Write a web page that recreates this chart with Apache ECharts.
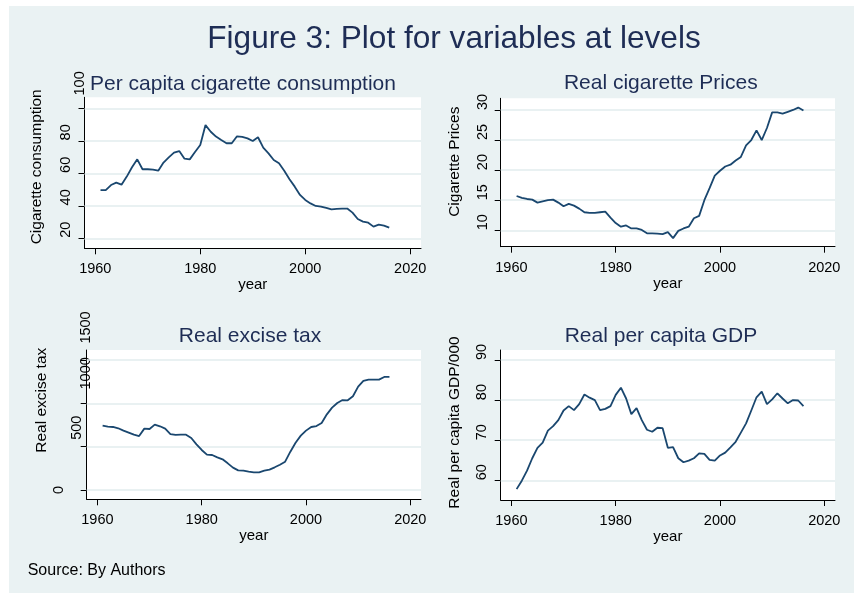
<!DOCTYPE html>
<html><head><meta charset="utf-8">
<script src="https://cdn.jsdelivr.net/npm/echarts@6/dist/echarts.min.js"></script>
<style>html,body{margin:0;padding:0;background:#fff}#c{width:854px;height:593px}</style>
</head><body><div id="c"></div>
<script>
// ---------------- data ----------------
const years = [1961,1962,1963,1964,1965,1966,1967,1968,1969,1970,1971,1972,1973,1974,1975,1976,1977,1978,1979,1980,
  1981,1982,1983,1984,1985,1986,1987,1988,1989,1990,1991,1992,1993,1994,1995,1996,1997,1998,1999,2000,
  2001,2002,2003,2004,2005,2006,2007,2008,2009,2010,2011,2012,2013,2014,2015,2016];
const consumption = [49.7,49.7,52.8,54.3,53.0,58.0,63.7,68.6,62.5,62.5,62.3,61.6,66.6,69.8,72.7,73.7,69.0,68.6,73.1,77.4,
  89.7,85.6,82.6,80.5,78.5,78.5,82.8,82.4,81.5,79.9,82.2,75.8,72.3,68.2,66.2,61.6,56.3,51.8,46.7,43.6,
  41.5,39.9,39.5,38.7,37.8,38.1,38.3,38.3,35.8,31.9,30.3,29.6,27.2,28.4,27.8,26.6];
const prices = [15.7,15.4,15.2,15.1,14.6,14.8,15.0,15.1,14.6,14.0,14.4,14.1,13.6,13.0,12.9,12.9,13.0,13.1,12.1,11.2,
  10.6,10.8,10.3,10.3,10.05,9.5,9.5,9.45,9.35,9.7,8.7,9.9,10.3,10.6,12.0,12.4,15.0,17.0,19.1,19.9,
  20.6,20.9,21.6,22.2,24.1,25.0,26.6,25.0,27.0,29.6,29.6,29.4,29.7,30.0,30.4,29.9];
const exciseTax = [742,731,727,712,685,662,638,623,708,704,754,735,708,646,635,638,638,600,527,462,
  408,404,377,354,308,258,227,223,212,204,204,223,235,262,292,327,442,546,627,685,
  727,738,773,873,950,1004,1038,1035,1081,1192,1258,1273,1273,1273,1304,1304];
const gdpPerCapita = [57.8,59.9,62.4,65.5,68.1,69.4,72.4,73.5,75.0,77.4,78.5,77.5,79.0,81.4,80.6,80.0,77.5,77.8,78.5,81.3,
  83.1,80.4,76.5,78.0,75.0,72.6,72.1,73.1,73.0,68.1,68.3,65.5,64.5,64.9,65.5,66.7,66.6,65.1,64.9,66.2,
  66.9,68.2,69.6,71.9,74.2,77.4,80.7,82.1,79.0,80.2,81.7,80.4,79.2,80.0,79.9,78.5];

const xTicks = [1960,1980,2000,2020];
const consumptionTicks = [20,40,60,80,100];
const priceTicks = [10,15,20,25,30];
const taxTicks = [0,500,1000,1500];
const gdpTicks = [60,70,80,90];

const mainTitle = 'Figure 3: Plot for variables at levels';
const panelTitles = ['Per capita cigarette consumption','Real cigarette Prices','Real excise tax','Real per capita GDP'];
const yNames = ['Cigarette consumption','Cigarette Prices','Real excise tax','Real per capita GDP/000'];
const xName = 'year';
const sourceNote = 'Source: By Authors';

// ---------------- styling / layout ----------------
const BG = '#EAF2F3', GRIDLINE = '#E2ECEE', NAVY = '#1A476F', TITLE = '#1e2d55';
const FONT = '"Liberation Sans", Arial, Helvetica, sans-serif';
const panels = [
  {series: consumption, ticks: consumptionTicks, grid:{left:84.5, top:97.3, width:336.5, height:151},
   ymin:13.85, ymax:106.8, nameGap:39.4, namePad:12, xNameGap:26.7,
   off:{20:[8.5,17.8],40:[8.5,17.8],60:[8.5,17.8],80:[8.5,17.8],100:[25,4.5]},
   title:{x:243, y:73.9}},
  {series: prices, ticks: priceTicks, grid:{left:500.7, top:98.3, width:334.3, height:148.4},
   ymin:7.27, ymax:31.94, nameGap:38.3, namePad:21.6, xNameGap:27.3,
   off:{10:[8,17.4],15:[8,17.4],20:[8,17.4],25:[8,17.4],30:[8,17.4]},
   title:{x:660.8, y:72.9}},
  {series: exciseTax, ticks: taxTicks, grid:{left:86.7, top:350, width:334.3, height:149.3},
   ymin:-107, ymax:1615, nameGap:31.5, namePad:48.8, xNameGap:25.7,
   off:{0:[0,27.6],500:[19,9.2],1000:[30,0],1500:[32.5,0]},
   title:{x:250, y:325.5}},
  {series: gdpPerCapita, ticks: gdpTicks, grid:{left:500.7, top:350, width:334.3, height:150},
   ymin:55.09, ymax:92.49, nameGap:38.3, namePad:5, xNameGap:25,
   off:{60:[8,18.2],70:[8,18.2],80:[8,18.2],90:[8,18.2]},
   title:{x:661, y:325.5}}
];

const grids = [], xAxes = [], yAxes = [], series = [], titles = [];
titles.push({text: mainTitle, left: 454, top: 22.8, padding: 0, textAlign: 'center', textVerticalAlign: 'top',
  textStyle: {fontFamily: FONT, fontSize: 31.6, fontWeight: 'normal', color: TITLE}});
titles.push({text: sourceNote, left: 27.7, top: 562.5, padding: 0, textAlign: 'left', textVerticalAlign: 'top',
  textStyle: {fontFamily: FONT, fontSize: 16, fontWeight: 'normal', color: '#000'}});

panels.forEach((p, i) => {
  grids.push(Object.assign({show: true, backgroundColor: '#fff', borderWidth: 0, containLabel: false, outerBoundsMode: 'none'}, p.grid));
  titles.push({text: panelTitles[i], left: p.title.x, top: p.title.y, padding: 0, textAlign: 'center', textVerticalAlign: 'top',
    textStyle: {fontFamily: FONT, fontSize: 21, fontWeight: 'normal', color: TITLE}});
  xAxes.push({type: 'value', gridIndex: i, min: 1957.95, max: 2022.05,
    name: xName, nameLocation: 'middle', nameGap: p.xNameGap,
    nameTextStyle: {fontFamily: FONT, fontSize: 15, color: '#000'},
    axisLine: {show: true, onZero: false, lineStyle: {color: '#000', width: 1}},
    axisTick: {show: true, length: 6, customValues: xTicks, lineStyle: {color: '#000'}},
    axisLabel: {customValues: xTicks, margin: 13.5, fontFamily: FONT, fontSize: 14.5, color: '#000',
      formatter: (v) => String(v)},
    splitLine: {show: false}});
  const rich = {};
  p.ticks.forEach((v, k) => {
    const o = p.off[v];
    rich['t' + k] = {fontFamily: FONT, fontSize: 14.5, color: '#000', padding: [0, 0, o[1], 2 * o[0]]};
  });
  yAxes.push({type: 'value', gridIndex: i, min: p.ymin, max: p.ymax,
    name: yNames[i], nameLocation: 'middle', nameRotate: 90, nameGap: p.nameGap,
    nameTextStyle: {fontFamily: FONT, fontSize: 15.5, color: '#000', padding: [0, 0, 0, p.namePad]},
    axisLine: {show: true, onZero: false, lineStyle: {color: '#000', width: 1}},
    axisTick: {show: true, length: 6, customValues: p.ticks, lineStyle: {color: '#000'}},
    axisLabel: {customValues: p.ticks, rotate: 90, margin: -7, rich: rich, fontSize: 14.5,
      formatter: (v) => '{t' + p.ticks.indexOf(Number(v)) + '|' + String(v) + '}'},
    splitLine: {show: false}});
  series.push({type: 'line', xAxisIndex: i, yAxisIndex: i, z: 3,
    data: years.map((y, k) => [y, p.series[k]]),
    showSymbol: false, symbol: 'none', smooth: false, silent: true,
    lineStyle: {color: NAVY, width: 1.8},
    markLine: {z: 1, silent: true, symbol: ['none', 'none'], label: {show: false}, animation: false,
      lineStyle: {color: GRIDLINE, width: 1.5, type: 'solid'}, emphasis: {disabled: true},
      data: p.ticks.map(v => ({yAxis: v}))}});
});

const chart = echarts.init(document.getElementById('c'), null, {renderer: 'canvas'});
chart.setOption({
  backgroundColor: BG,
  animation: false,
  textStyle: {fontFamily: FONT},
  graphic: [
    {type: 'rect', shape: {x: 0, y: 0, width: 854, height: 6}, style: {fill: '#fff'}, silent: true},
    {type: 'rect', shape: {x: 0, y: 0, width: 9, height: 593}, style: {fill: '#fff'}, silent: true}
  ],
  title: titles,
  grid: grids,
  xAxis: xAxes,
  yAxis: yAxes,
  series: series
});
</script></body></html>
